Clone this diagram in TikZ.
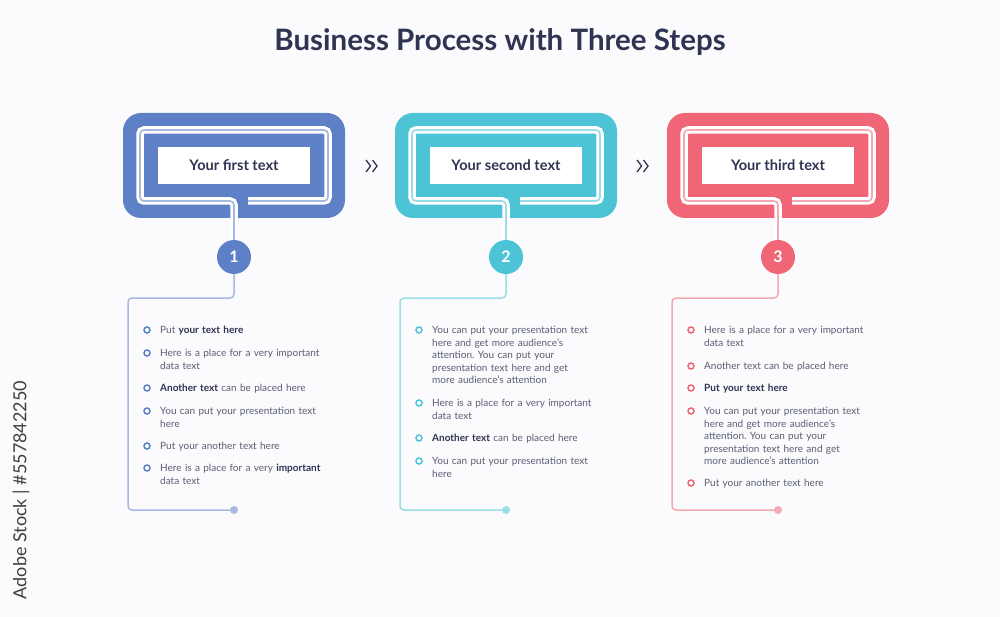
\documentclass[tikz,border=0pt]{standalone}
\usepackage{fontspec}
\setmainfont{Lato}
\frenchspacing
\definecolor{bgc}{HTML}{FBFBFD}
\definecolor{navy}{HTML}{2F3452}
\definecolor{bodyc}{HTML}{595E73}
\definecolor{cblue}{HTML}{5E80C6}
\definecolor{pblue}{HTML}{A6B9E2}
\definecolor{cteal}{HTML}{4DC3D6}
\definecolor{pteal}{HTML}{9ADDE8}
\definecolor{cred}{HTML}{F06677}
\definecolor{pred}{HTML}{F6A9B3}
\newcommand\bt[1]{\textbf{\color{navy}#1}}
\tikzset{
  outerbox/.style={rounded corners=18pt, minimum width=222pt, minimum height=105pt, inner sep=0pt},
  textbox/.style={fill=white, minimum width=152pt, minimum height=37pt, inner sep=0pt, font=\fontsize{14.6}{17}\selectfont\bfseries, text=navy},
  numcirc/.style={circle, minimum size=34pt, inner sep=0pt, text=white, font=\fontsize{16}{18}\selectfont\bfseries},
  ring/.style={circle, draw, line width=1.5pt, minimum size=6pt, inner sep=0pt, fill=white},
  item/.style={anchor=base west, align=left, inner sep=0pt, text=bodyc, text width=200pt, font=\fontsize{10}{12.5}\selectfont},
  enddot/.style={circle, minimum size=8pt, inner sep=0pt},
  casing/.style={white, line width=7.5pt, rounded corners=4pt},
  paleline/.style={line width=1.7pt, rounded corners=4pt},
  chevline/.style={navy, line width=1.3pt, line join=miter}
}
% #1 suffix, #2 cx, #3 main colour, #4 pale colour, #5 title, #6 number
\newcommand\procstep[6]{%
  \node[outerbox, fill=#3] (box#1) at (#2,165.5) {};
  \node[numcirc, fill=#3] (num#1) at (#2,257) {#6};
  \coordinate (bl#1) at (#2-94,201);
  \coordinate (tl#1) at (#2-94,130);
  \coordinate (tr#1) at (#2+94,130);
  \coordinate (br#1) at (#2+94,201);
  \coordinate (be#1) at (#2+14,201);
  \draw[casing] (num#1.north) -- (#2,201) -- (bl#1) -- (tl#1) -- (tr#1) -- (br#1) -- (be#1);
  \draw[paleline, #4] (num#1.north) -- (#2,201) -- (bl#1) -- (tl#1) -- (tr#1) -- (br#1) -- (be#1);
  \node[textbox] (tb#1) at (#2,165.5) {#5};
  \node[enddot, fill=#4] (dot#1) at (#2,510) {};
  \coordinate (ca#1) at (#2,298);
  \coordinate (cb#1) at (#2-106,298);
  \coordinate (cc#1) at (#2-106,510);
  \draw[paleline, #4, line width=1.5pt] (num#1.south) -- (ca#1) -- (cb#1) -- (cc#1) -- (dot#1.west);
}
% #1 name, #2 cx, #3 y, #4 colour, #5 text
\newcommand\bitem[5]{%
  \node[ring, draw=#4] (r#1) at (#2-87,#3) {};
  \node[item] (t#1) at (#2-74,#3+3.8) {#5};
}
% chevron pair centred at (#1,#2)
\newcommand\chevpair[2]{%
  \draw[chevline] (#1-6,#2-6) -- (#1-1.5,#2) -- (#1-6,#2+6);
  \draw[chevline] (#1+0.5,#2-6) -- (#1+5,#2) -- (#1+0.5,#2+6);
}
\begin{document}
\begin{tikzpicture}[x=1pt,y=-1pt]
\useasboundingbox[fill=bgc] (0,0) rectangle (1000,617);
\node[text=navy, font=\fontsize{29.5}{34}\selectfont\bfseries] (title) at (500,42) {Business Process with Three Steps};
\node[rotate=90, text=black!75, font=\fontsize{18}{20}\selectfont] (wm) at (21,490) {Adobe Stock | \#557842250};

\procstep{1}{234}{cblue}{pblue}{Your first text}{1}
\procstep{2}{506}{cteal}{pteal}{Your second text}{2}
\procstep{3}{778}{cred}{pred}{Your third text}{3}

\chevpair{372}{166}
\chevpair{643}{166}

\bitem{1a}{234}{330}{cblue}{Put \bt{your text here}}
\bitem{1b}{234}{353}{cblue}{Here is a place for a very important\\data text}
\bitem{1c}{234}{388}{cblue}{\bt{Another text} can be placed here}
\bitem{1d}{234}{411}{cblue}{You can put your presentation text\\here}
\bitem{1e}{234}{446}{cblue}{Put your another text here}
\bitem{1f}{234}{468}{cblue}{Here is a place for a very \bt{important}\\data text}

\bitem{2a}{506}{330}{cteal}{You can put your presentation text\\here and get more audience's\\attention. You can put your\\presentation text here and get\\more audience's attention}
\bitem{2b}{506}{403}{cteal}{Here is a place for a very important\\data text}
\bitem{2c}{506}{438}{cteal}{\bt{Another text} can be placed here}
\bitem{2d}{506}{461}{cteal}{You can put your presentation text\\here}

\bitem{3a}{778}{330}{cred}{Here is a place for a very important\\data text}
\bitem{3b}{778}{366}{cred}{Another text can be placed here}
\bitem{3c}{778}{388}{cred}{\bt{Put your text here}}
\bitem{3d}{778}{411}{cred}{You can put your presentation text\\here and get more audience's\\attention. You can put your\\presentation text here and get\\more audience's attention}
\bitem{3e}{778}{483}{cred}{Put your another text here}
\end{tikzpicture}
\end{document}
